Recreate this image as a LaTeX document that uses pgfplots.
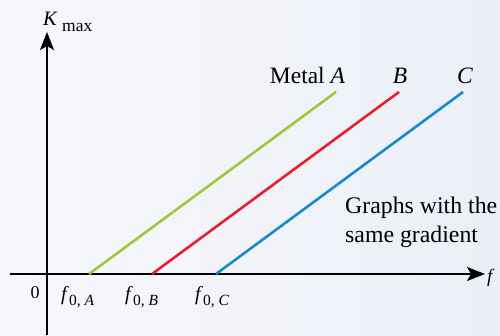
\documentclass[border=0pt]{standalone}
\usepackage{pgfplots}
\pgfplotsset{compat=1.18}
\usepackage{fontspec}
\setmainfont{Liberation Serif}
\usetikzlibrary{arrows.meta}

\definecolor{bgL}{RGB}{247,248,252}
\definecolor{bgR}{RGB}{236,239,247}
\definecolor{metalA}{RGB}{160,200,60}
\definecolor{metalB}{RGB}{232,32,42}
\definecolor{metalC}{RGB}{24,138,204}

\newcommand{\fs}[1]{\fontsize{#1}{#1}\selectfont}

\begin{document}
\begin{tikzpicture}[x=1pt,y=1pt]
  % page area: 500 x 335, origin of the graph at (47,274) from the top left
  \shade[left color=bgL, right color=bgR] (-47,-61) rectangle (453,274);
  \useasboundingbox (-47,-61) rectangle (453,274);
  \begin{axis}[
    at={(-37,-61)}, anchor=south west,
    scale only axis, width=475pt, height=303pt,
    xmin=-37, xmax=438, ymin=-61, ymax=242,
    axis lines=middle,
    axis line style={line width=1.8pt, -{Stealth[length=18pt,width=14pt,inset=4pt]}},
    xtick=\empty, ytick=\empty,
    clip=false,
  ]
    % three metals: same gradient, different threshold frequencies
    \addplot[metalA, line width=2.6pt] coordinates {(42,0) (289,182)};
    \addplot[metalB, line width=2.6pt] coordinates {(105,0) (352,182)};
    \addplot[metalC, line width=2.6pt] coordinates {(169,0) (416,182)};

    \node[anchor=base] at (axis cs:260.5,191) {\fs{23.5}Metal \textit{A}};
    \node[anchor=base] at (axis cs:353,191) {\fs{23.5}\textit{B}};
    \node[anchor=base] at (axis cs:418,191) {\fs{23.5}\textit{C}};

    \node[anchor=base west, inner sep=0pt] at (axis cs:298,61) {\fs{23.8}Graphs with the};
    \node[anchor=base west, inner sep=0pt] at (axis cs:298,32) {\fs{23.8}same gradient};

    % axis labels
    \node[anchor=base west, inner sep=0pt] at (axis cs:-4,248) {\fs{20.5}\textit{K}};
    \node[anchor=base west, inner sep=0pt] at (axis cs:15,242) {\fs{17.5}max};
    \node[anchor=base west, inner sep=0pt] at (axis cs:440,-8) {\fs{19}\textit{f}};
    \node[anchor=base, inner sep=0pt] at (axis cs:-12,-24) {\fs{18}0};

    % threshold frequencies
    \node[anchor=base west, inner sep=0pt] at (axis cs:14,-26)
      {\fs{20}\textit{f}\raisebox{-5pt}{\fs{15.5}0, \textit{A}}};
    \node[anchor=base west, inner sep=0pt] at (axis cs:78,-26)
      {\fs{20}\textit{f}\raisebox{-5pt}{\fs{15.5}0, \textit{B}}};
    \node[anchor=base west, inner sep=0pt] at (axis cs:148,-26)
      {\fs{20}\textit{f}\raisebox{-5pt}{\fs{15.5}0, \textit{C}}};
  \end{axis}
\end{tikzpicture}
\end{document}
